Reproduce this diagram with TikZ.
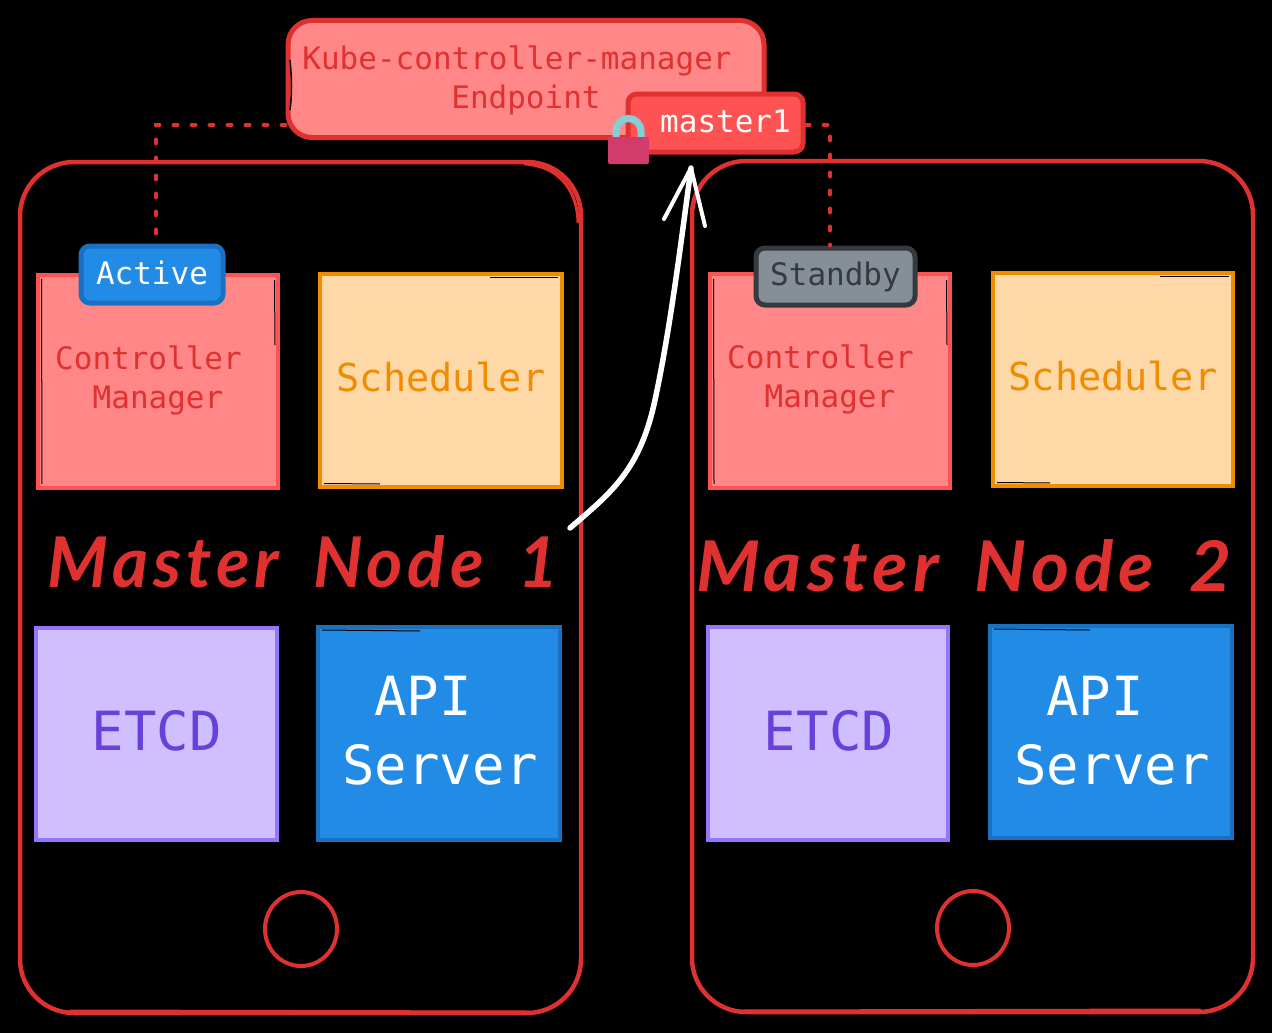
\documentclass[tikz,border=0pt]{standalone}
\usepackage{graphicx}
\usepackage{fontspec}
\setmainfont{DejaVu Sans Mono}
\newfontfamily\handfont[LetterSpace=7,WordSpace=1.7]{Lato}
\usetikzlibrary{positioning,calc,shapes.geometric}
\definecolor{rstroke}{HTML}{E03131}
\definecolor{rfill}{HTML}{FF8787}
\definecolor{rdeep}{HTML}{FF5252}
\definecolor{ostroke}{HTML}{F08C00}
\definecolor{ofill}{HTML}{FFD8A8}
\definecolor{pstroke}{HTML}{9775FA}
\definecolor{pfill}{HTML}{D0BFFF}
\definecolor{ptext}{HTML}{6741D9}
\definecolor{bstroke}{HTML}{1971C2}
\definecolor{bfill}{HTML}{228BE6}
\definecolor{gstroke}{HTML}{343A40}
\definecolor{gfill}{HTML}{868E96}
\definecolor{lockbody}{HTML}{D23B6C}
\definecolor{lockarc}{HTML}{82D0D4}
\tikzset{
  phone/.style={draw=rstroke,line width=4.5pt,rounded corners=54pt},
  sketchline/.style={draw=rstroke,line width=3pt,line cap=round},
  sliver/.style={draw=black,line width=1pt},
  boxr/.style={draw=rdeep,fill=rfill,line width=3.5pt,inner sep=0pt},
  boxo/.style={draw=ostroke,fill=ofill,line width=3.5pt,inner sep=0pt},
  boxp/.style={draw=pstroke,fill=pfill,line width=4pt,inner sep=0pt},
  boxb/.style={draw=bstroke,fill=bfill,line width=4pt,inner sep=0pt},
  smalltxt/.style={font=\fontsize{31}{39}\selectfont,align=center,inner sep=0pt},
  midtxt/.style={font=\fontsize{38.5}{48}\selectfont,align=center,inner sep=0pt},
  bigtxt/.style={font=\fontsize{54}{69}\selectfont,align=center,inner sep=0pt},
  handtxt/.style={font=\handfont\bfseries\itshape\fontsize{70}{80}\selectfont,text=rstroke,inner sep=0pt},
  dotline/.style={draw=rstroke,line width=4pt,line cap=round,dash pattern=on 4pt off 14pt},
  tag/.style={line width=5pt,rounded corners=9pt,inner sep=0pt},
  homebtn/.style={ellipse,draw=rstroke,line width=4pt,minimum width=72pt,minimum height=74pt,inner sep=0pt},
  whiteline/.style={draw=white,line width=5.5pt,line cap=round,line join=round}
}
\begin{document}
\begin{tikzpicture}[x=1pt,y=-1pt]
\useasboundingbox (0,0) rectangle (1272,1033);
\fill[black] (0,0) rectangle (1272,1033);

% phones
\draw[phone] (20,162) rectangle (581,1013);
\draw[phone] (692,161) rectangle (1253,1012);
\draw[sketchline] (525,164) .. controls (557,166) and (577,188) .. (578,222);
\draw[sketchline] (740,1011) -- (1200,1010);
\draw[sketchline] (70,1011) -- (530,1012);
\node[homebtn] (home1) at (301,929) {};
\node[homebtn] (home2) at (973,928) {};

% left boxes
\node[boxr,minimum width=240pt,minimum height=213pt] (cm1) at (158,381.5) {};
\draw[sliver] (41.5,279) -- (42,484);
\draw[sliver] (274.5,280) -- (275,345);
\node[smalltxt,text=rstroke] (cm1t) at (158,380) {Controller\rule{19pt}{0pt}\\Manager};
\node[boxo,minimum width=242pt,minimum height=213pt] (sc1) at (441,380.5) {};
\draw[sliver] (490,277.5) -- (558,277.5);
\draw[sliver] (324,483.5) -- (380,484);
\node[midtxt,text=ostroke] (sc1t) at (441,377) {Scheduler};
\node[boxp,minimum width=241pt,minimum height=212pt] (et1) at (156.5,734) {};
\node[bigtxt,text=ptext] (et1t) at (157,731) {ETCD};
\node[boxb,minimum width=242pt,minimum height=213pt] (ap1) at (439,733.5) {};
\draw[sliver] (322,630) -- (420,631);
\node[bigtxt,text=white] (ap1t) at (440,731) {API\rule{34pt}{0pt}\\Server};

% right boxes
\node[boxr,minimum width=240pt,minimum height=214pt] (cm2) at (830,381) {};
\draw[sliver] (713.5,279) -- (714,484);
\draw[sliver] (946.5,280) -- (947,345);
\node[smalltxt,text=rstroke] (cm2t) at (830,379) {Controller\rule{19pt}{0pt}\\Manager};
\node[boxo,minimum width=240pt,minimum height=213pt] (sc2) at (1113,379.5) {};
\draw[sliver] (1160,276.5) -- (1229,276.5);
\draw[sliver] (997,482.5) -- (1050,483);
\node[midtxt,text=ostroke] (sc2t) at (1113,376) {Scheduler};
\node[boxp,minimum width=240pt,minimum height=213pt] (et2) at (828,733.5) {};
\node[bigtxt,text=ptext] (et2t) at (829,731) {ETCD};
\node[boxb,minimum width=242pt,minimum height=212pt] (ap2) at (1111,732) {};
\draw[sliver] (994,629) -- (1090,630);
\node[bigtxt,text=white] (ap2t) at (1112,731) {API\rule{34pt}{0pt}\\Server};

% titles
\node[handtxt] (t1) at (303,562) {\scalebox{0.99}[1]{Master Node 1}};
\node[handtxt] (t2) at (964,566) {\scalebox{1.04}[1]{Master Node 2}};

% tags
\node[tag,draw=bstroke,fill=bfill,text=white,font=\fontsize{31}{39}\selectfont,minimum width=142pt,minimum height=57pt] (active) at (152,274.5) {\raisebox{3pt}{Active}};
\node[tag,draw=gstroke,fill=gfill,text=gstroke,font=\fontsize{31}{39}\selectfont,minimum width=159pt,minimum height=57pt] (standby) at (835.5,276.5) {Standby};

% endpoint
\node[draw=rstroke,fill=rfill,line width=5pt,rounded corners=24pt,minimum width=476pt,minimum height=117pt,inner sep=0pt] (endpoint) at (526,79) {};
\draw[draw=black,line width=1.5pt] (290,60) .. controls (292,80) and (292,95) .. (290,110);
\node[smalltxt,text=rstroke] (endpointt) at (517,80) {Kube-controller-manager\\\hspace{18pt}Endpoint};
\node[tag,draw=rstroke,fill=rdeep,text=white,font=\fontsize{31}{39}\selectfont,minimum width=175pt,minimum height=58pt] (master) at (715.5,123) {\hspace{20pt}\raisebox{3pt}{master1}};

% dotted connectors
\coordinate (elbow1) at (156,125);
\coordinate (elbow2) at (830,125);
\draw[dotline] (endpoint.west |- elbow1) -- (elbow1) -- (active.north -| elbow1);
\draw[dotline] (master.east |- elbow2) -- (elbow2) -- (standby.north -| elbow2);

% lock
\draw[draw=lockarc,line width=7pt] (616,140) -- (616,131) arc[start angle=180,end angle=0,radius=12.5,y radius=-12.5] -- (641,140);
\fill[lockbody,rounded corners=2pt] (608,137) rectangle (649,164);

% arrow
\coordinate (arrowstart) at (570,528);
\coordinate (arrowtip) at (691,168);
\coordinate (barbl) at (664,219);
\coordinate (barbr) at (705,226);
\draw[whiteline] (arrowstart) .. controls (612,492) and (640,470) .. (655,400) .. controls (670,330) and (680,250) .. (arrowtip);
\draw[whiteline,line width=4pt] (barbl) -- (arrowtip) -- (barbr);
\end{tikzpicture}
\end{document}
